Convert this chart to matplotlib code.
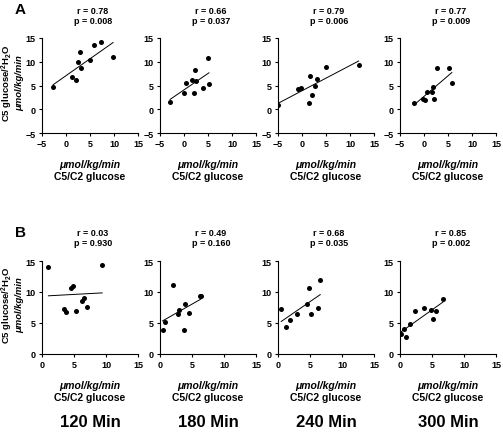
import numpy as np
import matplotlib
matplotlib.use("Agg")
import matplotlib.pyplot as plt

plt.rcParams['font.family'] = ['Liberation Sans', 'DejaVu Sans']
plt.rcParams['mathtext.fontset'] = 'custom'
plt.rcParams['mathtext.rm'] = 'Liberation Sans:bold'
plt.rcParams['mathtext.bf'] = 'Liberation Sans:bold'
plt.rcParams['mathtext.it'] = 'Liberation Sans:bold:italic'

# ---- data ----
a1_x = [-2.7, 1.3, 2.0, 2.4, 3.0, 3.1, 5.0, 5.9, 7.2, 9.8]
a1_y = [4.6, 6.7, 6.2, 10.0, 12.0, 8.6, 10.3, 13.5, 14.1, 11.0]
a2_x = [-2.9, 0.0, 0.5, 1.7, 2.2, 2.1, 2.6, 3.9, 5.0, 5.2]
a2_y = [1.5, 3.5, 5.6, 6.1, 8.2, 3.5, 5.9, 4.4, 10.7, 5.4]
a3_x = [-5.0, -0.8, -0.2, 1.4, 1.6, 2.0, 2.8, 3.1, 5.1, 11.8]
a3_y = [0.9, 4.2, 4.5, 1.3, 7.1, 3.0, 4.8, 6.4, 8.9, 9.4]
a4_x = [-2.1, -0.3, 0.2, 0.7, 1.6, 1.8, 2.0, 2.8, 5.2, 5.8]
a4_y = [1.3, 2.2, 1.9, 3.6, 3.6, 4.6, 2.2, 8.7, 8.7, 5.6]
b1_x = [1.0, 4.5, 4.8, 3.5, 3.7, 5.3, 6.2, 6.5, 7.0, 9.4]
b1_y = [14.1, 10.7, 10.9, 7.2, 6.8, 6.9, 8.5, 9.1, 7.6, 14.4]
b2_x = [0.4, 0.8, 2.1, 2.8, 3.0, 3.8, 3.9, 4.5, 6.3, 6.4]
b2_y = [3.9, 5.2, 11.2, 6.4, 7.1, 3.8, 8.0, 6.6, 9.4, 9.4]
b3_x = [0.5, 1.2, 1.9, 2.9, 4.5, 4.8, 5.2, 6.2, 6.6]
b3_y = [7.3, 4.3, 5.5, 6.5, 8.0, 10.7, 6.4, 7.4, 11.9]
b4_x = [0.2, 0.7, 0.9, 1.6, 2.4, 3.8, 4.8, 5.1, 5.7, 6.7]
b4_y = [3.3, 4.0, 2.7, 4.9, 7.0, 7.5, 7.1, 5.7, 6.9, 8.8]

r_vals_a = ["0.78", "0.66", "0.79", "0.77"]
p_vals_a = ["0.008", "0.037", "0.006", "0.009"]
r_vals_b = ["0.03", "0.49", "0.68", "0.85"]
p_vals_b = ["0.930", "0.160", "0.035", "0.002"]
time_labels = ["120 Min", "180 Min", "240 Min", "300 Min"]

row_a = [(a1_x, a1_y), (a2_x, a2_y), (a3_x, a3_y), (a4_x, a4_y)]
row_b = [(b1_x, b1_y), (b2_x, b2_y), (b3_x, b3_y), (b4_x, b4_y)]

W, H = 503, 435
fig = plt.figure(figsize=(W / 100, H / 100), dpi=100)

lefts = [42, 160, 278, 400]
aw = 96

def fx(px):
    return px / W

def fy(py):
    return 1 - py / H

def make_panel(left, top, bottom, xs, ys, xlim, ylim, r, p):
    ax = fig.add_axes([fx(left), fy(bottom), aw / W, (bottom - top) / H])
    ax.scatter(xs, ys, s=13, color='black', zorder=3, linewidths=0)
    xs_a = np.array(xs)
    ys_a = np.array(ys)
    k, b = np.polyfit(xs_a, ys_a, 1)
    xl = np.array([xs_a.min(), xs_a.max()])
    ax.plot(xl, k * xl + b, color='black', lw=0.7)
    ax.set_xlim(*xlim)
    ax.set_ylim(*ylim)
    ax.set_xticks(np.arange(xlim[0], xlim[1] + 1, 5))
    ax.set_yticks(np.arange(ylim[0], ylim[1] + 1, 5))
    for s in ['top', 'right']:
        ax.spines[s].set_visible(False)
    for s in ['left', 'bottom']:
        ax.spines[s].set_linewidth(0.8)
    ax.tick_params(direction='out', length=2.5, width=0.8, pad=2,
                   labelsize=6.5)
    for lab in ax.get_xticklabels() + ax.get_yticklabels():
        lab.set_fontweight('bold')
    cx = left + aw / 2 + 3
    fig.text(fx(cx), fy(top - 28), "r = " + r, ha='center', va='center',
             fontsize=6.5, fontweight='bold')
    fig.text(fx(cx), fy(top - 18), "p = " + p, ha='center', va='center',
             fontsize=6.5, fontweight='bold')
    lx = left + aw / 2
    fig.text(fx(lx), fy(bottom + 31), "\u03bcmol/kg/min", ha='center',
             va='center', fontsize=7.5, fontweight='bold', style='italic')
    fig.text(fx(lx), fy(bottom + 43), "C5/C2 glucose", ha='center',
             va='center', fontsize=7.5, fontweight='bold')
    return ax

topA, botA = 39, 134
topB, botB = 262, 355
for i in range(4):
    make_panel(lefts[i], topA, botA, row_a[i][0], row_a[i][1], (-5, 15), (-5, 15),
               r_vals_a[i], p_vals_a[i])
    make_panel(lefts[i], topB, botB, row_b[i][0], row_b[i][1], (0, 15), (0, 15),
               r_vals_b[i], p_vals_b[i])
    fig.text(fx(lefts[i] + aw / 2), fy(423), time_labels[i], ha='center',
             va='center', fontsize=12, fontweight='bold')

for (top, bot) in [(topA, botA), (topB, botB)]:
    cy = (top + bot) / 2 - 3
    fig.text(fx(7.5), fy(cy), r'C5 glucose/$^{2}$H$_{2}$O', rotation=90,
             ha='center', va='center', fontsize=6.8, fontweight='bold')
    fig.text(fx(19.5), fy(cy), "\u03bcmol/kg/min", rotation=90,
             ha='center', va='center', fontsize=6.8, fontweight='bold',
             style='italic')

fig.text(fx(20), fy(10), "A", ha='center', va='center', fontsize=11,
         fontweight='bold')
fig.text(fx(20), fy(233), "B", ha='center', va='center', fontsize=11,
         fontweight='bold')

fig.savefig("out.png", dpi=100)
